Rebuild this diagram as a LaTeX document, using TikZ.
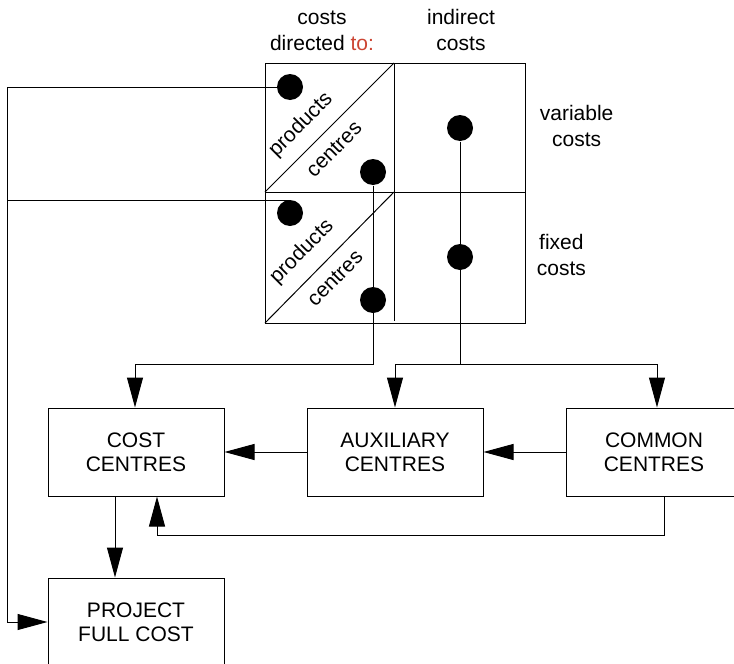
\documentclass[tikz,border=0pt]{standalone}
\usepackage{fontspec}
\setmainfont{Liberation Sans}
\usetikzlibrary{arrows.meta,positioning,calc}
\definecolor{tored}{rgb}{0.80,0.27,0.20}

\tikzset{
  box/.style={draw, minimum width=176pt, minimum height=88pt, align=center, inner sep=0pt},
  dot/.style={circle, fill=black, minimum size=26pt, inner sep=0pt},
  lbl/.style={align=center, font=\fontsize{21}{26}\selectfont},
  diag/.style={rotate=45, inner sep=0pt},
  flow/.style={-{Triangle[length=30pt,width=16pt]}}
}

\begin{document}
\begin{tikzpicture}[x=1pt, y=-1pt, line width=1pt, font=\fontsize{21}{24}\selectfont]
  \useasboundingbox (0,0) rectangle (734,664);
  % cost matrix
  \draw (265,63) rectangle (525,323);
  \draw (265,192) -- (525,192);
  \draw (394,63) -- (394,321);
  \draw (265,192) -- (394,63);
  \draw (265,323) -- (394,192);
  \node[diag] (prodv) at (301,125) {products};
  \node[diag] (centv) at (334,149) {centres};
  \node[diag] (prodf) at (302,252) {products};
  \node[diag] (centf) at (335,278) {centres};
  % headings
  \node[lbl] (directed) at (322,31) {costs\\directed \textcolor{tored}{to:}};
  \node[lbl] (indirect) at (461,30) {indirect\\costs};
  \node[lbl, anchor=west] (variable) at (536,126) {variable\\costs};
  \node[lbl, anchor=west] (fixed) at (533,255) {fixed\\costs};
  % dots
  \node[dot] (p1) at (290,87) {};
  \node[dot] (c1) at (373,172) {};
  \node[dot] (v1) at (460,128) {};
  \node[dot] (p2) at (290,213) {};
  \node[dot] (c2) at (373,300) {};
  \node[dot] (f1) at (460,257) {};
  % centres
  \node[box] (cost) at (136,452) {COST\\CENTRES};
  \node[box] (aux) at (395,452) {AUXILIARY\\CENTRES};
  \node[box] (common) at (654,452) {COMMON\\CENTRES};
  \node[box] (proj) at (136,622) {PROJECT\\FULL COST};
  % connections
  \coordinate (left) at (7,622);
  \coordinate (split) at (460,364);
  \coordinate (back) at (157,535);
  \draw[flow] (p1) -| (left) -- (proj.west);
  \draw (p2) |- (7,200);
  \draw[flow] (c1) -- (c1 |- 0,364) -| ([xshift=-1pt]cost.north);
  \draw (v1) -- (split);
  \draw[flow] (aux.north |- split) -- (aux.north);
  \draw[flow] (aux.north |- split) -| ([xshift=3pt]common.north);
  \draw[flow] (aux) -- (cost);
  \draw[flow] (common) -- (aux);
  \draw[flow] ([xshift=-21pt]cost.south) -- ([xshift=-21pt]proj.north);
  \draw[flow] ([xshift=10pt]common.south) |- (back) -- (back |- cost.south);
\end{tikzpicture}
\end{document}
